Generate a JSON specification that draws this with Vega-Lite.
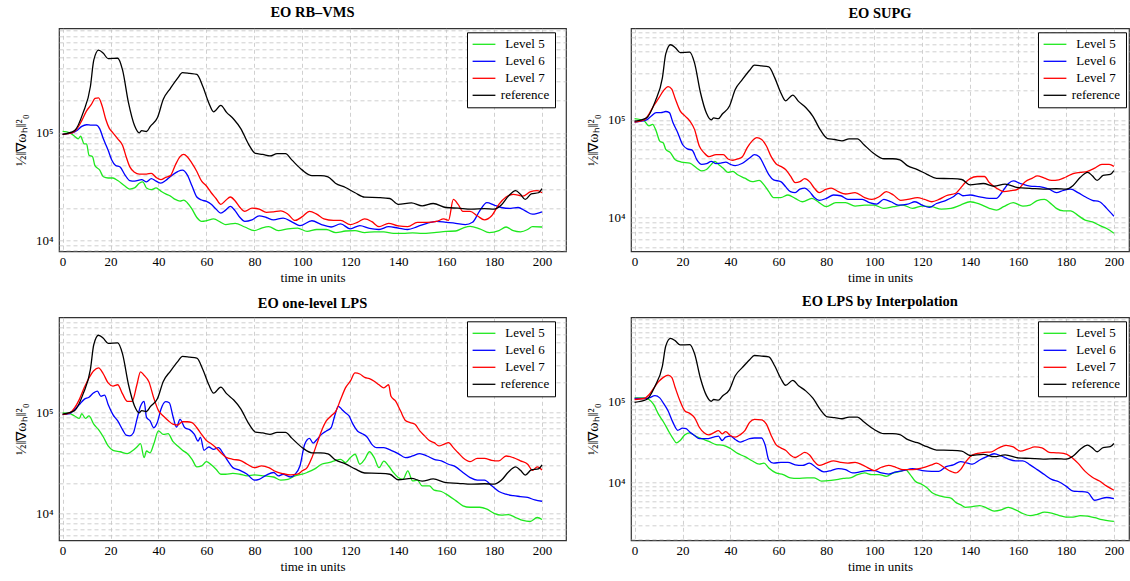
{
 "$schema": "https://vega.github.io/schema/vega-lite/v6.json",
 "padding": {"left": 13, "top": 3.3, "right": 0, "bottom": 0},
 "config": {
  "view": {"stroke": "#333", "strokeWidth": 1.2},
  "font": "Liberation Serif",
  "style": {"guide-label": {"font": "Liberation Serif", "fontSize": 13, "fill": "#000"}, "guide-title": {"font": "Liberation Serif", "fill": "#000"}},
  "axis": {"domain": false, "ticks": false, "grid": true, "gridDash": [4, 3], "gridColor": "#c4c4c4", "gridWidth": 0.8,
   "labelFont": "Liberation Serif", "labelFontSize": 13, "labelColor": "#000", "titleFont": "Liberation Serif", "titleFontSize": 13, "titleFontWeight": "normal", "titleColor": "#000"},
  "title": {"font": "Liberation Serif", "fontSize": 14.5, "fontWeight": "bold", "color": "#000", "offset": 4},
  "legend": {"orient": "none", "labelFont": "Liberation Serif", "labelFontSize": 13, "labelColor": "#000", "symbolType": "M-1.9,0H1.9", "symbolSize": 144, "symbolStrokeWidth": 1.3, "symbolOffset": 5, "strokeColor": "#000", "fillColor": "#fff", "padding": 5, "rowPadding": 3, "labelOffset": 34, "labelAlign": "center", "cornerRadius": 0}
 },
 "datasets": {"d": [
{"p":"rb","s":"Level 5","t":0,"v":103000},{"p":"rb","s":"Level 5","t":3,"v":100000},{"p":"rb","s":"Level 5","t":5,"v":93000},{"p":"rb","s":"Level 5","t":6.5,"v":88000},{"p":"rb","s":"Level 5","t":7.5,"v":93000},{"p":"rb","s":"Level 5","t":9,"v":79000},{"p":"rb","s":"Level 5","t":10,"v":79000},{"p":"rb","s":"Level 5","t":11,"v":62000},{"p":"rb","s":"Level 5","t":12.5,"v":60000},{"p":"rb","s":"Level 5","t":13.5,"v":49500},{"p":"rb","s":"Level 5","t":15.5,"v":45000},{"p":"rb","s":"Level 5","t":17,"v":39000},{"p":"rb","s":"Level 5","t":19,"v":38000},{"p":"rb","s":"Level 5","t":21,"v":38000},{"p":"rb","s":"Level 5","t":23,"v":36000},{"p":"rb","s":"Level 5","t":26,"v":32000},{"p":"rb","s":"Level 5","t":28,"v":30000},{"p":"rb","s":"Level 5","t":30,"v":30700},{"p":"rb","s":"Level 5","t":32,"v":34000},{"p":"rb","s":"Level 5","t":33.5,"v":35000},{"p":"rb","s":"Level 5","t":35,"v":30700},{"p":"rb","s":"Level 5","t":37,"v":29600},{"p":"rb","s":"Level 5","t":39,"v":30700},{"p":"rb","s":"Level 5","t":41,"v":28700},{"p":"rb","s":"Level 5","t":43,"v":27000},{"p":"rb","s":"Level 5","t":45,"v":25800},{"p":"rb","s":"Level 5","t":47,"v":24000},{"p":"rb","s":"Level 5","t":49,"v":23200},{"p":"rb","s":"Level 5","t":50.5,"v":23700},{"p":"rb","s":"Level 5","t":52,"v":22400},{"p":"rb","s":"Level 5","t":54,"v":19500},{"p":"rb","s":"Level 5","t":56,"v":16300},{"p":"rb","s":"Level 5","t":58,"v":15000},{"p":"rb","s":"Level 5","t":60,"v":15200},{"p":"rb","s":"Level 5","t":63,"v":15800},{"p":"rb","s":"Level 5","t":66,"v":14700},{"p":"rb","s":"Level 5","t":68,"v":14000},{"p":"rb","s":"Level 5","t":72,"v":14400},{"p":"rb","s":"Level 5","t":76,"v":13300},{"p":"rb","s":"Level 5","t":80,"v":12300},{"p":"rb","s":"Level 5","t":83,"v":13000},{"p":"rb","s":"Level 5","t":86,"v":13400},{"p":"rb","s":"Level 5","t":90,"v":12300},{"p":"rb","s":"Level 5","t":94,"v":12800},{"p":"rb","s":"Level 5","t":98,"v":13000},{"p":"rb","s":"Level 5","t":102,"v":12100},{"p":"rb","s":"Level 5","t":106,"v":12600},{"p":"rb","s":"Level 5","t":110,"v":12600},{"p":"rb","s":"Level 5","t":114,"v":11800},{"p":"rb","s":"Level 5","t":118,"v":12200},{"p":"rb","s":"Level 5","t":122,"v":12300},{"p":"rb","s":"Level 5","t":126,"v":11800},{"p":"rb","s":"Level 5","t":130,"v":12000},{"p":"rb","s":"Level 5","t":134,"v":12000},{"p":"rb","s":"Level 5","t":138,"v":11600},{"p":"rb","s":"Level 5","t":142,"v":11600},{"p":"rb","s":"Level 5","t":146,"v":11700},{"p":"rb","s":"Level 5","t":150,"v":11600},{"p":"rb","s":"Level 5","t":155,"v":11800},{"p":"rb","s":"Level 5","t":160,"v":12100},{"p":"rb","s":"Level 5","t":164,"v":12200},{"p":"rb","s":"Level 5","t":167,"v":13000},{"p":"rb","s":"Level 5","t":170,"v":13500},{"p":"rb","s":"Level 5","t":174,"v":12800},{"p":"rb","s":"Level 5","t":178,"v":11800},{"p":"rb","s":"Level 5","t":182,"v":12300},{"p":"rb","s":"Level 5","t":185,"v":13300},{"p":"rb","s":"Level 5","t":188,"v":12300},{"p":"rb","s":"Level 5","t":191,"v":12000},{"p":"rb","s":"Level 5","t":194,"v":12600},{"p":"rb","s":"Level 5","t":196,"v":13400},{"p":"rb","s":"Level 5","t":200,"v":13300},
{"p":"rb","s":"Level 6","t":0,"v":97000},{"p":"rb","s":"Level 6","t":4,"v":100000},{"p":"rb","s":"Level 6","t":6,"v":105000},{"p":"rb","s":"Level 6","t":8,"v":115000},{"p":"rb","s":"Level 6","t":10,"v":119000},{"p":"rb","s":"Level 6","t":12,"v":118000},{"p":"rb","s":"Level 6","t":14,"v":118000},{"p":"rb","s":"Level 6","t":15.5,"v":109000},{"p":"rb","s":"Level 6","t":17,"v":88000},{"p":"rb","s":"Level 6","t":19,"v":69000},{"p":"rb","s":"Level 6","t":20.5,"v":56000},{"p":"rb","s":"Level 6","t":22,"v":50000},{"p":"rb","s":"Level 6","t":24,"v":48000},{"p":"rb","s":"Level 6","t":26,"v":40700},{"p":"rb","s":"Level 6","t":28,"v":36000},{"p":"rb","s":"Level 6","t":30,"v":35500},{"p":"rb","s":"Level 6","t":33,"v":36700},{"p":"rb","s":"Level 6","t":35,"v":35000},{"p":"rb","s":"Level 6","t":37,"v":37500},{"p":"rb","s":"Level 6","t":39,"v":35500},{"p":"rb","s":"Level 6","t":41,"v":34000},{"p":"rb","s":"Level 6","t":43,"v":36000},{"p":"rb","s":"Level 6","t":45,"v":39300},{"p":"rb","s":"Level 6","t":48,"v":43600},{"p":"rb","s":"Level 6","t":50,"v":45000},{"p":"rb","s":"Level 6","t":52,"v":40700},{"p":"rb","s":"Level 6","t":54,"v":32000},{"p":"rb","s":"Level 6","t":56,"v":25300},{"p":"rb","s":"Level 6","t":58,"v":23700},{"p":"rb","s":"Level 6","t":60,"v":23000},{"p":"rb","s":"Level 6","t":62,"v":21600},{"p":"rb","s":"Level 6","t":64,"v":19500},{"p":"rb","s":"Level 6","t":66,"v":17900},{"p":"rb","s":"Level 6","t":68,"v":19100},{"p":"rb","s":"Level 6","t":70,"v":20700},{"p":"rb","s":"Level 6","t":72,"v":18800},{"p":"rb","s":"Level 6","t":74,"v":16300},{"p":"rb","s":"Level 6","t":76,"v":15000},{"p":"rb","s":"Level 6","t":79,"v":15500},{"p":"rb","s":"Level 6","t":82,"v":16900},{"p":"rb","s":"Level 6","t":85,"v":16300},{"p":"rb","s":"Level 6","t":88,"v":15500},{"p":"rb","s":"Level 6","t":92,"v":16100},{"p":"rb","s":"Level 6","t":96,"v":14700},{"p":"rb","s":"Level 6","t":99,"v":13700},{"p":"rb","s":"Level 6","t":104,"v":15200},{"p":"rb","s":"Level 6","t":108,"v":14000},{"p":"rb","s":"Level 6","t":112,"v":13300},{"p":"rb","s":"Level 6","t":116,"v":14200},{"p":"rb","s":"Level 6","t":120,"v":12800},{"p":"rb","s":"Level 6","t":124,"v":13700},{"p":"rb","s":"Level 6","t":128,"v":12900},{"p":"rb","s":"Level 6","t":132,"v":12600},{"p":"rb","s":"Level 6","t":136,"v":13400},{"p":"rb","s":"Level 6","t":140,"v":13000},{"p":"rb","s":"Level 6","t":144,"v":12600},{"p":"rb","s":"Level 6","t":148,"v":13400},{"p":"rb","s":"Level 6","t":152,"v":14400},{"p":"rb","s":"Level 6","t":156,"v":15000},{"p":"rb","s":"Level 6","t":160,"v":14700},{"p":"rb","s":"Level 6","t":164,"v":14400},{"p":"rb","s":"Level 6","t":168,"v":14000},{"p":"rb","s":"Level 6","t":171,"v":14700},{"p":"rb","s":"Level 6","t":174,"v":18800},{"p":"rb","s":"Level 6","t":177,"v":22400},{"p":"rb","s":"Level 6","t":180,"v":21300},{"p":"rb","s":"Level 6","t":183,"v":20200},{"p":"rb","s":"Level 6","t":187,"v":19800},{"p":"rb","s":"Level 6","t":190,"v":20200},{"p":"rb","s":"Level 6","t":193,"v":18800},{"p":"rb","s":"Level 6","t":196,"v":17500},{"p":"rb","s":"Level 6","t":200,"v":18400},
{"p":"rb","s":"Level 7","t":0,"v":97000},{"p":"rb","s":"Level 7","t":4,"v":100000},{"p":"rb","s":"Level 7","t":6,"v":109000},{"p":"rb","s":"Level 7","t":8,"v":130000},{"p":"rb","s":"Level 7","t":10,"v":160000},{"p":"rb","s":"Level 7","t":12,"v":184000},{"p":"rb","s":"Level 7","t":13.5,"v":209000},{"p":"rb","s":"Level 7","t":15,"v":212000},{"p":"rb","s":"Level 7","t":16.5,"v":178000},{"p":"rb","s":"Level 7","t":18,"v":134000},{"p":"rb","s":"Level 7","t":19.5,"v":110000},{"p":"rb","s":"Level 7","t":21,"v":100000},{"p":"rb","s":"Level 7","t":23,"v":88000},{"p":"rb","s":"Level 7","t":25,"v":76600},{"p":"rb","s":"Level 7","t":26.5,"v":60000},{"p":"rb","s":"Level 7","t":28,"v":48500},{"p":"rb","s":"Level 7","t":30,"v":43000},{"p":"rb","s":"Level 7","t":32,"v":41300},{"p":"rb","s":"Level 7","t":35,"v":41300},{"p":"rb","s":"Level 7","t":37,"v":42000},{"p":"rb","s":"Level 7","t":39,"v":38500},{"p":"rb","s":"Level 7","t":41,"v":36700},{"p":"rb","s":"Level 7","t":43,"v":38500},{"p":"rb","s":"Level 7","t":45,"v":40000},{"p":"rb","s":"Level 7","t":47,"v":50000},{"p":"rb","s":"Level 7","t":49,"v":60000},{"p":"rb","s":"Level 7","t":50.5,"v":63000},{"p":"rb","s":"Level 7","t":52,"v":60000},{"p":"rb","s":"Level 7","t":54,"v":52000},{"p":"rb","s":"Level 7","t":56,"v":43700},{"p":"rb","s":"Level 7","t":58,"v":35500},{"p":"rb","s":"Level 7","t":60,"v":32000},{"p":"rb","s":"Level 7","t":62,"v":27700},{"p":"rb","s":"Level 7","t":64,"v":24500},{"p":"rb","s":"Level 7","t":66,"v":21600},{"p":"rb","s":"Level 7","t":68,"v":23500},{"p":"rb","s":"Level 7","t":70,"v":25300},{"p":"rb","s":"Level 7","t":72,"v":23200},{"p":"rb","s":"Level 7","t":74,"v":20200},{"p":"rb","s":"Level 7","t":76,"v":18600},{"p":"rb","s":"Level 7","t":79,"v":19900},{"p":"rb","s":"Level 7","t":82,"v":19500},{"p":"rb","s":"Level 7","t":85,"v":18200},{"p":"rb","s":"Level 7","t":88,"v":18400},{"p":"rb","s":"Level 7","t":91,"v":18800},{"p":"rb","s":"Level 7","t":94,"v":17500},{"p":"rb","s":"Level 7","t":97,"v":15300},{"p":"rb","s":"Level 7","t":100,"v":16600},{"p":"rb","s":"Level 7","t":103,"v":18600},{"p":"rb","s":"Level 7","t":106,"v":17500},{"p":"rb","s":"Level 7","t":109,"v":15800},{"p":"rb","s":"Level 7","t":113,"v":15300},{"p":"rb","s":"Level 7","t":116,"v":15300},{"p":"rb","s":"Level 7","t":120,"v":14000},{"p":"rb","s":"Level 7","t":123,"v":14700},{"p":"rb","s":"Level 7","t":126,"v":15800},{"p":"rb","s":"Level 7","t":129,"v":14900},{"p":"rb","s":"Level 7","t":132,"v":13400},{"p":"rb","s":"Level 7","t":136,"v":14400},{"p":"rb","s":"Level 7","t":140,"v":13600},{"p":"rb","s":"Level 7","t":144,"v":13400},{"p":"rb","s":"Level 7","t":148,"v":14700},{"p":"rb","s":"Level 7","t":152,"v":14700},{"p":"rb","s":"Level 7","t":156,"v":15000},{"p":"rb","s":"Level 7","t":159,"v":15800},{"p":"rb","s":"Level 7","t":161,"v":15300},{"p":"rb","s":"Level 7","t":163,"v":24000},{"p":"rb","s":"Level 7","t":165,"v":21600},{"p":"rb","s":"Level 7","t":167,"v":18600},{"p":"rb","s":"Level 7","t":170,"v":18600},{"p":"rb","s":"Level 7","t":173,"v":16900},{"p":"rb","s":"Level 7","t":176,"v":15500},{"p":"rb","s":"Level 7","t":179,"v":16900},{"p":"rb","s":"Level 7","t":182,"v":21600},{"p":"rb","s":"Level 7","t":185,"v":25300},{"p":"rb","s":"Level 7","t":188,"v":26800},{"p":"rb","s":"Level 7","t":192,"v":25800},{"p":"rb","s":"Level 7","t":195,"v":28200},{"p":"rb","s":"Level 7","t":198,"v":29000},{"p":"rb","s":"Level 7","t":200,"v":27700},
{"p":"supg","s":"Level 5","t":0,"v":103000},{"p":"supg","s":"Level 5","t":4,"v":98000},{"p":"supg","s":"Level 5","t":6,"v":87000},{"p":"supg","s":"Level 5","t":7.5,"v":90000},{"p":"supg","s":"Level 5","t":9,"v":77000},{"p":"supg","s":"Level 5","t":10.5,"v":60700},{"p":"supg","s":"Level 5","t":12,"v":58000},{"p":"supg","s":"Level 5","t":13,"v":50000},{"p":"supg","s":"Level 5","t":15,"v":46000},{"p":"supg","s":"Level 5","t":17,"v":39000},{"p":"supg","s":"Level 5","t":19.5,"v":37000},{"p":"supg","s":"Level 5","t":23,"v":36000},{"p":"supg","s":"Level 5","t":26,"v":32000},{"p":"supg","s":"Level 5","t":28,"v":30000},{"p":"supg","s":"Level 5","t":30,"v":31000},{"p":"supg","s":"Level 5","t":32,"v":35000},{"p":"supg","s":"Level 5","t":33.5,"v":37600},{"p":"supg","s":"Level 5","t":35,"v":35000},{"p":"supg","s":"Level 5","t":37,"v":32000},{"p":"supg","s":"Level 5","t":39,"v":29000},{"p":"supg","s":"Level 5","t":41,"v":29700},{"p":"supg","s":"Level 5","t":43,"v":27400},{"p":"supg","s":"Level 5","t":46,"v":25300},{"p":"supg","s":"Level 5","t":49,"v":23300},{"p":"supg","s":"Level 5","t":52,"v":24000},{"p":"supg","s":"Level 5","t":54,"v":21600},{"p":"supg","s":"Level 5","t":56,"v":18400},{"p":"supg","s":"Level 5","t":58,"v":16000},{"p":"supg","s":"Level 5","t":61,"v":16000},{"p":"supg","s":"Level 5","t":64,"v":17000},{"p":"supg","s":"Level 5","t":67,"v":15700},{"p":"supg","s":"Level 5","t":70,"v":14500},{"p":"supg","s":"Level 5","t":74,"v":15700},{"p":"supg","s":"Level 5","t":77,"v":14200},{"p":"supg","s":"Level 5","t":80,"v":12900},{"p":"supg","s":"Level 5","t":84,"v":14200},{"p":"supg","s":"Level 5","t":88,"v":14200},{"p":"supg","s":"Level 5","t":92,"v":13100},{"p":"supg","s":"Level 5","t":96,"v":13400},{"p":"supg","s":"Level 5","t":100,"v":13400},{"p":"supg","s":"Level 5","t":104,"v":12400},{"p":"supg","s":"Level 5","t":108,"v":12900},{"p":"supg","s":"Level 5","t":112,"v":13400},{"p":"supg","s":"Level 5","t":116,"v":12400},{"p":"supg","s":"Level 5","t":120,"v":13100},{"p":"supg","s":"Level 5","t":124,"v":12900},{"p":"supg","s":"Level 5","t":128,"v":12200},{"p":"supg","s":"Level 5","t":132,"v":12400},{"p":"supg","s":"Level 5","t":136,"v":13400},{"p":"supg","s":"Level 5","t":140,"v":14500},{"p":"supg","s":"Level 5","t":144,"v":13700},{"p":"supg","s":"Level 5","t":148,"v":12400},{"p":"supg","s":"Level 5","t":151,"v":11900},{"p":"supg","s":"Level 5","t":154,"v":12900},{"p":"supg","s":"Level 5","t":158,"v":14200},{"p":"supg","s":"Level 5","t":162,"v":13100},{"p":"supg","s":"Level 5","t":165,"v":13400},{"p":"supg","s":"Level 5","t":168,"v":14900},{"p":"supg","s":"Level 5","t":171,"v":15300},{"p":"supg","s":"Level 5","t":174,"v":13700},{"p":"supg","s":"Level 5","t":176,"v":12400},{"p":"supg","s":"Level 5","t":179,"v":11700},{"p":"supg","s":"Level 5","t":182,"v":11700},{"p":"supg","s":"Level 5","t":185,"v":10500},{"p":"supg","s":"Level 5","t":188,"v":9400},{"p":"supg","s":"Level 5","t":191,"v":9000},{"p":"supg","s":"Level 5","t":194,"v":8300},{"p":"supg","s":"Level 5","t":197,"v":7700},{"p":"supg","s":"Level 5","t":200,"v":6900},
{"p":"supg","s":"Level 6","t":0,"v":95000},{"p":"supg","s":"Level 6","t":5,"v":100000},{"p":"supg","s":"Level 6","t":7,"v":110000},{"p":"supg","s":"Level 6","t":9,"v":119000},{"p":"supg","s":"Level 6","t":11,"v":119000},{"p":"supg","s":"Level 6","t":13,"v":122000},{"p":"supg","s":"Level 6","t":14.5,"v":119000},{"p":"supg","s":"Level 6","t":16,"v":94000},{"p":"supg","s":"Level 6","t":18,"v":74000},{"p":"supg","s":"Level 6","t":20,"v":56000},{"p":"supg","s":"Level 6","t":22,"v":50500},{"p":"supg","s":"Level 6","t":24,"v":49000},{"p":"supg","s":"Level 6","t":26,"v":39000},{"p":"supg","s":"Level 6","t":28,"v":35000},{"p":"supg","s":"Level 6","t":30,"v":35600},{"p":"supg","s":"Level 6","t":32,"v":37600},{"p":"supg","s":"Level 6","t":34,"v":35600},{"p":"supg","s":"Level 6","t":36,"v":36000},{"p":"supg","s":"Level 6","t":38,"v":37000},{"p":"supg","s":"Level 6","t":40,"v":35000},{"p":"supg","s":"Level 6","t":42,"v":34000},{"p":"supg","s":"Level 6","t":45,"v":36000},{"p":"supg","s":"Level 6","t":48,"v":40700},{"p":"supg","s":"Level 6","t":50,"v":44000},{"p":"supg","s":"Level 6","t":52,"v":42000},{"p":"supg","s":"Level 6","t":54,"v":34300},{"p":"supg","s":"Level 6","t":56,"v":27500},{"p":"supg","s":"Level 6","t":58,"v":24300},{"p":"supg","s":"Level 6","t":61,"v":23300},{"p":"supg","s":"Level 6","t":63,"v":20700},{"p":"supg","s":"Level 6","t":65,"v":18400},{"p":"supg","s":"Level 6","t":67,"v":18000},{"p":"supg","s":"Level 6","t":69,"v":19500},{"p":"supg","s":"Level 6","t":71,"v":20000},{"p":"supg","s":"Level 6","t":73,"v":18400},{"p":"supg","s":"Level 6","t":75,"v":16000},{"p":"supg","s":"Level 6","t":77,"v":15000},{"p":"supg","s":"Level 6","t":80,"v":15700},{"p":"supg","s":"Level 6","t":83,"v":17000},{"p":"supg","s":"Level 6","t":86,"v":16700},{"p":"supg","s":"Level 6","t":89,"v":15300},{"p":"supg","s":"Level 6","t":92,"v":15300},{"p":"supg","s":"Level 6","t":95,"v":15300},{"p":"supg","s":"Level 6","t":98,"v":14200},{"p":"supg","s":"Level 6","t":101,"v":13700},{"p":"supg","s":"Level 6","t":104,"v":15300},{"p":"supg","s":"Level 6","t":107,"v":14500},{"p":"supg","s":"Level 6","t":110,"v":13400},{"p":"supg","s":"Level 6","t":114,"v":13700},{"p":"supg","s":"Level 6","t":117,"v":14500},{"p":"supg","s":"Level 6","t":120,"v":13400},{"p":"supg","s":"Level 6","t":123,"v":12700},{"p":"supg","s":"Level 6","t":126,"v":13900},{"p":"supg","s":"Level 6","t":130,"v":15000},{"p":"supg","s":"Level 6","t":133,"v":16300},{"p":"supg","s":"Level 6","t":135,"v":17700},{"p":"supg","s":"Level 6","t":137,"v":16700},{"p":"supg","s":"Level 6","t":140,"v":17000},{"p":"supg","s":"Level 6","t":144,"v":16300},{"p":"supg","s":"Level 6","t":148,"v":15700},{"p":"supg","s":"Level 6","t":151,"v":15700},{"p":"supg","s":"Level 6","t":153,"v":17700},{"p":"supg","s":"Level 6","t":156,"v":22300},{"p":"supg","s":"Level 6","t":158,"v":23700},{"p":"supg","s":"Level 6","t":161,"v":22300},{"p":"supg","s":"Level 6","t":165,"v":21000},{"p":"supg","s":"Level 6","t":169,"v":20700},{"p":"supg","s":"Level 6","t":173,"v":19500},{"p":"supg","s":"Level 6","t":176,"v":18000},{"p":"supg","s":"Level 6","t":179,"v":19000},{"p":"supg","s":"Level 6","t":182,"v":19500},{"p":"supg","s":"Level 6","t":185,"v":18000},{"p":"supg","s":"Level 6","t":188,"v":16300},{"p":"supg","s":"Level 6","t":191,"v":15000},{"p":"supg","s":"Level 6","t":194,"v":14500},{"p":"supg","s":"Level 6","t":197,"v":12400},{"p":"supg","s":"Level 6","t":200,"v":10300},
{"p":"supg","s":"Level 7","t":0,"v":95000},{"p":"supg","s":"Level 7","t":4,"v":100000},{"p":"supg","s":"Level 7","t":6,"v":115000},{"p":"supg","s":"Level 7","t":8,"v":140000},{"p":"supg","s":"Level 7","t":10,"v":166000},{"p":"supg","s":"Level 7","t":12,"v":199000},{"p":"supg","s":"Level 7","t":14,"v":220000},{"p":"supg","s":"Level 7","t":15.5,"v":207000},{"p":"supg","s":"Level 7","t":17,"v":164000},{"p":"supg","s":"Level 7","t":19,"v":124000},{"p":"supg","s":"Level 7","t":21,"v":110000},{"p":"supg","s":"Level 7","t":23,"v":98000},{"p":"supg","s":"Level 7","t":25,"v":80000},{"p":"supg","s":"Level 7","t":27,"v":54000},{"p":"supg","s":"Level 7","t":29,"v":46000},{"p":"supg","s":"Level 7","t":31,"v":42000},{"p":"supg","s":"Level 7","t":34,"v":44000},{"p":"supg","s":"Level 7","t":37,"v":44000},{"p":"supg","s":"Level 7","t":39,"v":39800},{"p":"supg","s":"Level 7","t":41,"v":38600},{"p":"supg","s":"Level 7","t":43,"v":39800},{"p":"supg","s":"Level 7","t":45,"v":42000},{"p":"supg","s":"Level 7","t":47,"v":52000},{"p":"supg","s":"Level 7","t":49,"v":60700},{"p":"supg","s":"Level 7","t":51,"v":66000},{"p":"supg","s":"Level 7","t":53,"v":63000},{"p":"supg","s":"Level 7","t":55,"v":54000},{"p":"supg","s":"Level 7","t":57,"v":42000},{"p":"supg","s":"Level 7","t":59,"v":35600},{"p":"supg","s":"Level 7","t":61,"v":33400},{"p":"supg","s":"Level 7","t":63,"v":31000},{"p":"supg","s":"Level 7","t":65,"v":26700},{"p":"supg","s":"Level 7","t":67,"v":22800},{"p":"supg","s":"Level 7","t":69,"v":23300},{"p":"supg","s":"Level 7","t":71,"v":25000},{"p":"supg","s":"Level 7","t":73,"v":23300},{"p":"supg","s":"Level 7","t":75,"v":20000},{"p":"supg","s":"Level 7","t":77,"v":18000},{"p":"supg","s":"Level 7","t":80,"v":19500},{"p":"supg","s":"Level 7","t":82,"v":20000},{"p":"supg","s":"Level 7","t":85,"v":18400},{"p":"supg","s":"Level 7","t":88,"v":17400},{"p":"supg","s":"Level 7","t":92,"v":18000},{"p":"supg","s":"Level 7","t":96,"v":16000},{"p":"supg","s":"Level 7","t":99,"v":15300},{"p":"supg","s":"Level 7","t":102,"v":16300},{"p":"supg","s":"Level 7","t":105,"v":18400},{"p":"supg","s":"Level 7","t":108,"v":17000},{"p":"supg","s":"Level 7","t":111,"v":15000},{"p":"supg","s":"Level 7","t":114,"v":15300},{"p":"supg","s":"Level 7","t":118,"v":16000},{"p":"supg","s":"Level 7","t":121,"v":15300},{"p":"supg","s":"Level 7","t":124,"v":14500},{"p":"supg","s":"Level 7","t":127,"v":15300},{"p":"supg","s":"Level 7","t":130,"v":16700},{"p":"supg","s":"Level 7","t":134,"v":17700},{"p":"supg","s":"Level 7","t":136,"v":20000},{"p":"supg","s":"Level 7","t":138,"v":22800},{"p":"supg","s":"Level 7","t":140,"v":25000},{"p":"supg","s":"Level 7","t":143,"v":26300},{"p":"supg","s":"Level 7","t":146,"v":26300},{"p":"supg","s":"Level 7","t":148,"v":22800},{"p":"supg","s":"Level 7","t":151,"v":20000},{"p":"supg","s":"Level 7","t":154,"v":18400},{"p":"supg","s":"Level 7","t":157,"v":18800},{"p":"supg","s":"Level 7","t":160,"v":19500},{"p":"supg","s":"Level 7","t":163,"v":23300},{"p":"supg","s":"Level 7","t":166,"v":25300},{"p":"supg","s":"Level 7","t":168,"v":26700},{"p":"supg","s":"Level 7","t":171,"v":25300},{"p":"supg","s":"Level 7","t":174,"v":24000},{"p":"supg","s":"Level 7","t":177,"v":24300},{"p":"supg","s":"Level 7","t":180,"v":26000},{"p":"supg","s":"Level 7","t":183,"v":28200},{"p":"supg","s":"Level 7","t":186,"v":29000},{"p":"supg","s":"Level 7","t":189,"v":29700},{"p":"supg","s":"Level 7","t":192,"v":32000},{"p":"supg","s":"Level 7","t":195,"v":35000},{"p":"supg","s":"Level 7","t":198,"v":35000},{"p":"supg","s":"Level 7","t":200,"v":33400},
{"p":"lps","s":"Level 5","t":0,"v":100000},{"p":"lps","s":"Level 5","t":3,"v":98000},{"p":"lps","s":"Level 5","t":5,"v":93000},{"p":"lps","s":"Level 5","t":7,"v":88000},{"p":"lps","s":"Level 5","t":8,"v":98000},{"p":"lps","s":"Level 5","t":9.5,"v":88000},{"p":"lps","s":"Level 5","t":11,"v":93000},{"p":"lps","s":"Level 5","t":13,"v":77000},{"p":"lps","s":"Level 5","t":15,"v":68000},{"p":"lps","s":"Level 5","t":17,"v":57400},{"p":"lps","s":"Level 5","t":19,"v":46800},{"p":"lps","s":"Level 5","t":21,"v":42400},{"p":"lps","s":"Level 5","t":24,"v":41000},{"p":"lps","s":"Level 5","t":27,"v":39300},{"p":"lps","s":"Level 5","t":29,"v":41700},{"p":"lps","s":"Level 5","t":31,"v":45700},{"p":"lps","s":"Level 5","t":32.5,"v":49300},{"p":"lps","s":"Level 5","t":34,"v":35800},{"p":"lps","s":"Level 5","t":35,"v":41700},{"p":"lps","s":"Level 5","t":36.5,"v":40000},{"p":"lps","s":"Level 5","t":38,"v":48600},{"p":"lps","s":"Level 5","t":40,"v":66000},{"p":"lps","s":"Level 5","t":42,"v":61000},{"p":"lps","s":"Level 5","t":44,"v":62000},{"p":"lps","s":"Level 5","t":46,"v":52000},{"p":"lps","s":"Level 5","t":48,"v":46800},{"p":"lps","s":"Level 5","t":50,"v":42400},{"p":"lps","s":"Level 5","t":52,"v":39300},{"p":"lps","s":"Level 5","t":54,"v":34500},{"p":"lps","s":"Level 5","t":56,"v":29000},{"p":"lps","s":"Level 5","t":58,"v":29600},{"p":"lps","s":"Level 5","t":60,"v":32700},{"p":"lps","s":"Level 5","t":62,"v":30400},{"p":"lps","s":"Level 5","t":64,"v":27500},{"p":"lps","s":"Level 5","t":66,"v":24500},{"p":"lps","s":"Level 5","t":68,"v":24500},{"p":"lps","s":"Level 5","t":71,"v":25000},{"p":"lps","s":"Level 5","t":74,"v":24500},{"p":"lps","s":"Level 5","t":77,"v":23600},{"p":"lps","s":"Level 5","t":80,"v":24100},{"p":"lps","s":"Level 5","t":84,"v":23600},{"p":"lps","s":"Level 5","t":88,"v":23000},{"p":"lps","s":"Level 5","t":91,"v":21400},{"p":"lps","s":"Level 5","t":94,"v":21800},{"p":"lps","s":"Level 5","t":97,"v":23600},{"p":"lps","s":"Level 5","t":100,"v":24500},{"p":"lps","s":"Level 5","t":102,"v":25500},{"p":"lps","s":"Level 5","t":105,"v":27500},{"p":"lps","s":"Level 5","t":108,"v":30800},{"p":"lps","s":"Level 5","t":111,"v":32000},{"p":"lps","s":"Level 5","t":113,"v":33000},{"p":"lps","s":"Level 5","t":116,"v":34500},{"p":"lps","s":"Level 5","t":118,"v":32000},{"p":"lps","s":"Level 5","t":120,"v":35800},{"p":"lps","s":"Level 5","t":122,"v":38700},{"p":"lps","s":"Level 5","t":124,"v":30800},{"p":"lps","s":"Level 5","t":126,"v":34500},{"p":"lps","s":"Level 5","t":128,"v":41000},{"p":"lps","s":"Level 5","t":130,"v":35800},{"p":"lps","s":"Level 5","t":132,"v":28500},{"p":"lps","s":"Level 5","t":134,"v":33000},{"p":"lps","s":"Level 5","t":136,"v":29600},{"p":"lps","s":"Level 5","t":138,"v":25500},{"p":"lps","s":"Level 5","t":140,"v":22700},{"p":"lps","s":"Level 5","t":142,"v":21800},{"p":"lps","s":"Level 5","t":144,"v":26500},{"p":"lps","s":"Level 5","t":146,"v":21000},{"p":"lps","s":"Level 5","t":148,"v":21400},{"p":"lps","s":"Level 5","t":150,"v":18800},{"p":"lps","s":"Level 5","t":153,"v":18800},{"p":"lps","s":"Level 5","t":155,"v":17000},{"p":"lps","s":"Level 5","t":158,"v":16500},{"p":"lps","s":"Level 5","t":161,"v":15000},{"p":"lps","s":"Level 5","t":164,"v":13400},{"p":"lps","s":"Level 5","t":167,"v":11900},{"p":"lps","s":"Level 5","t":170,"v":11500},{"p":"lps","s":"Level 5","t":174,"v":11500},{"p":"lps","s":"Level 5","t":177,"v":11000},{"p":"lps","s":"Level 5","t":180,"v":10000},{"p":"lps","s":"Level 5","t":183,"v":9600},{"p":"lps","s":"Level 5","t":186,"v":9700},{"p":"lps","s":"Level 5","t":189,"v":9100},{"p":"lps","s":"Level 5","t":192,"v":8500},{"p":"lps","s":"Level 5","t":195,"v":8300},{"p":"lps","s":"Level 5","t":198,"v":9100},{"p":"lps","s":"Level 5","t":200,"v":8700},
{"p":"lps","s":"Level 6","t":0,"v":96000},{"p":"lps","s":"Level 6","t":3,"v":98000},{"p":"lps","s":"Level 6","t":5,"v":108000},{"p":"lps","s":"Level 6","t":7,"v":121000},{"p":"lps","s":"Level 6","t":9,"v":136000},{"p":"lps","s":"Level 6","t":11,"v":143000},{"p":"lps","s":"Level 6","t":13,"v":158000},{"p":"lps","s":"Level 6","t":14.5,"v":164000},{"p":"lps","s":"Level 6","t":16,"v":146000},{"p":"lps","s":"Level 6","t":17.5,"v":150000},{"p":"lps","s":"Level 6","t":19,"v":121000},{"p":"lps","s":"Level 6","t":21,"v":96000},{"p":"lps","s":"Level 6","t":23,"v":83000},{"p":"lps","s":"Level 6","t":25,"v":68000},{"p":"lps","s":"Level 6","t":26.5,"v":60000},{"p":"lps","s":"Level 6","t":28,"v":59000},{"p":"lps","s":"Level 6","t":29.5,"v":63000},{"p":"lps","s":"Level 6","t":31,"v":86000},{"p":"lps","s":"Level 6","t":32.5,"v":116000},{"p":"lps","s":"Level 6","t":34,"v":130000},{"p":"lps","s":"Level 6","t":35,"v":90000},{"p":"lps","s":"Level 6","t":36.5,"v":83000},{"p":"lps","s":"Level 6","t":38,"v":71000},{"p":"lps","s":"Level 6","t":39.5,"v":80000},{"p":"lps","s":"Level 6","t":41,"v":108000},{"p":"lps","s":"Level 6","t":43,"v":129000},{"p":"lps","s":"Level 6","t":44.5,"v":126000},{"p":"lps","s":"Level 6","t":46,"v":93000},{"p":"lps","s":"Level 6","t":47.5,"v":72000},{"p":"lps","s":"Level 6","t":49,"v":86000},{"p":"lps","s":"Level 6","t":51,"v":71000},{"p":"lps","s":"Level 6","t":53,"v":68000},{"p":"lps","s":"Level 6","t":55,"v":61000},{"p":"lps","s":"Level 6","t":56.5,"v":52400},{"p":"lps","s":"Level 6","t":57.5,"v":57000},{"p":"lps","s":"Level 6","t":59,"v":42400},{"p":"lps","s":"Level 6","t":61,"v":45700},{"p":"lps","s":"Level 6","t":63,"v":43300},{"p":"lps","s":"Level 6","t":65,"v":45000},{"p":"lps","s":"Level 6","t":67,"v":39300},{"p":"lps","s":"Level 6","t":69,"v":33000},{"p":"lps","s":"Level 6","t":71,"v":28500},{"p":"lps","s":"Level 6","t":74,"v":26800},{"p":"lps","s":"Level 6","t":77,"v":24500},{"p":"lps","s":"Level 6","t":80,"v":21400},{"p":"lps","s":"Level 6","t":82,"v":21800},{"p":"lps","s":"Level 6","t":85,"v":24000},{"p":"lps","s":"Level 6","t":88,"v":25500},{"p":"lps","s":"Level 6","t":90,"v":23600},{"p":"lps","s":"Level 6","t":92,"v":24500},{"p":"lps","s":"Level 6","t":95,"v":23000},{"p":"lps","s":"Level 6","t":97,"v":24500},{"p":"lps","s":"Level 6","t":99,"v":29600},{"p":"lps","s":"Level 6","t":101,"v":48600},{"p":"lps","s":"Level 6","t":103,"v":55700},{"p":"lps","s":"Level 6","t":104.5,"v":50000},{"p":"lps","s":"Level 6","t":106,"v":54000},{"p":"lps","s":"Level 6","t":108,"v":61000},{"p":"lps","s":"Level 6","t":110,"v":66000},{"p":"lps","s":"Level 6","t":112,"v":71000},{"p":"lps","s":"Level 6","t":113.5,"v":93000},{"p":"lps","s":"Level 6","t":115,"v":116000},{"p":"lps","s":"Level 6","t":116.5,"v":108000},{"p":"lps","s":"Level 6","t":118,"v":100000},{"p":"lps","s":"Level 6","t":119.5,"v":93000},{"p":"lps","s":"Level 6","t":121,"v":78000},{"p":"lps","s":"Level 6","t":123,"v":66000},{"p":"lps","s":"Level 6","t":125,"v":62000},{"p":"lps","s":"Level 6","t":127,"v":57400},{"p":"lps","s":"Level 6","t":129,"v":48600},{"p":"lps","s":"Level 6","t":131,"v":45000},{"p":"lps","s":"Level 6","t":134,"v":45000},{"p":"lps","s":"Level 6","t":137,"v":42400},{"p":"lps","s":"Level 6","t":140,"v":39300},{"p":"lps","s":"Level 6","t":143,"v":35800},{"p":"lps","s":"Level 6","t":146,"v":37200},{"p":"lps","s":"Level 6","t":149,"v":39300},{"p":"lps","s":"Level 6","t":152,"v":37200},{"p":"lps","s":"Level 6","t":155,"v":34500},{"p":"lps","s":"Level 6","t":158,"v":33300},{"p":"lps","s":"Level 6","t":161,"v":30800},{"p":"lps","s":"Level 6","t":164,"v":29000},{"p":"lps","s":"Level 6","t":167,"v":25500},{"p":"lps","s":"Level 6","t":170,"v":22700},{"p":"lps","s":"Level 6","t":173,"v":21400},{"p":"lps","s":"Level 6","t":176,"v":21400},{"p":"lps","s":"Level 6","t":179,"v":18800},{"p":"lps","s":"Level 6","t":182,"v":16500},{"p":"lps","s":"Level 6","t":185,"v":15500},{"p":"lps","s":"Level 6","t":188,"v":15000},{"p":"lps","s":"Level 6","t":191,"v":14700},{"p":"lps","s":"Level 6","t":194,"v":14400},{"p":"lps","s":"Level 6","t":197,"v":13600},{"p":"lps","s":"Level 6","t":200,"v":13200},
{"p":"lps","s":"Level 7","t":0,"v":96000},{"p":"lps","s":"Level 7","t":3,"v":100000},{"p":"lps","s":"Level 7","t":5,"v":112000},{"p":"lps","s":"Level 7","t":7,"v":136000},{"p":"lps","s":"Level 7","t":9,"v":177000},{"p":"lps","s":"Level 7","t":11,"v":222000},{"p":"lps","s":"Level 7","t":13,"v":262000},{"p":"lps","s":"Level 7","t":15,"v":279000},{"p":"lps","s":"Level 7","t":17,"v":243000},{"p":"lps","s":"Level 7","t":19,"v":198000},{"p":"lps","s":"Level 7","t":21,"v":184000},{"p":"lps","s":"Level 7","t":23,"v":190000},{"p":"lps","s":"Level 7","t":25,"v":154000},{"p":"lps","s":"Level 7","t":27,"v":130000},{"p":"lps","s":"Level 7","t":29,"v":130000},{"p":"lps","s":"Level 7","t":31,"v":190000},{"p":"lps","s":"Level 7","t":32.5,"v":255000},{"p":"lps","s":"Level 7","t":34,"v":236000},{"p":"lps","s":"Level 7","t":36,"v":203000},{"p":"lps","s":"Level 7","t":38,"v":141000},{"p":"lps","s":"Level 7","t":40,"v":105000},{"p":"lps","s":"Level 7","t":42,"v":93000},{"p":"lps","s":"Level 7","t":44,"v":84000},{"p":"lps","s":"Level 7","t":46,"v":77000},{"p":"lps","s":"Level 7","t":48,"v":75500},{"p":"lps","s":"Level 7","t":50,"v":81500},{"p":"lps","s":"Level 7","t":52,"v":81500},{"p":"lps","s":"Level 7","t":54,"v":80000},{"p":"lps","s":"Level 7","t":56,"v":71000},{"p":"lps","s":"Level 7","t":58,"v":61000},{"p":"lps","s":"Level 7","t":60,"v":53000},{"p":"lps","s":"Level 7","t":62,"v":49300},{"p":"lps","s":"Level 7","t":64,"v":45000},{"p":"lps","s":"Level 7","t":66,"v":40000},{"p":"lps","s":"Level 7","t":68,"v":36400},{"p":"lps","s":"Level 7","t":71,"v":34500},{"p":"lps","s":"Level 7","t":74,"v":33700},{"p":"lps","s":"Level 7","t":77,"v":30800},{"p":"lps","s":"Level 7","t":80,"v":28500},{"p":"lps","s":"Level 7","t":83,"v":29600},{"p":"lps","s":"Level 7","t":86,"v":28500},{"p":"lps","s":"Level 7","t":89,"v":26000},{"p":"lps","s":"Level 7","t":92,"v":24800},{"p":"lps","s":"Level 7","t":95,"v":24100},{"p":"lps","s":"Level 7","t":98,"v":24500},{"p":"lps","s":"Level 7","t":100,"v":26500},{"p":"lps","s":"Level 7","t":102,"v":28500},{"p":"lps","s":"Level 7","t":104,"v":35800},{"p":"lps","s":"Level 7","t":106,"v":48600},{"p":"lps","s":"Level 7","t":108,"v":66000},{"p":"lps","s":"Level 7","t":110,"v":83000},{"p":"lps","s":"Level 7","t":112,"v":93000},{"p":"lps","s":"Level 7","t":114,"v":104000},{"p":"lps","s":"Level 7","t":116,"v":136000},{"p":"lps","s":"Level 7","t":118,"v":177000},{"p":"lps","s":"Level 7","t":120,"v":206000},{"p":"lps","s":"Level 7","t":122,"v":249000},{"p":"lps","s":"Level 7","t":124,"v":243000},{"p":"lps","s":"Level 7","t":126,"v":225000},{"p":"lps","s":"Level 7","t":128,"v":219000},{"p":"lps","s":"Level 7","t":130,"v":206000},{"p":"lps","s":"Level 7","t":132,"v":190000},{"p":"lps","s":"Level 7","t":134,"v":177000},{"p":"lps","s":"Level 7","t":136,"v":190000},{"p":"lps","s":"Level 7","t":137,"v":146000},{"p":"lps","s":"Level 7","t":139,"v":130000},{"p":"lps","s":"Level 7","t":141,"v":104000},{"p":"lps","s":"Level 7","t":143,"v":84000},{"p":"lps","s":"Level 7","t":145,"v":80000},{"p":"lps","s":"Level 7","t":147,"v":77000},{"p":"lps","s":"Level 7","t":149,"v":66000},{"p":"lps","s":"Level 7","t":151,"v":59000},{"p":"lps","s":"Level 7","t":153,"v":53000},{"p":"lps","s":"Level 7","t":155,"v":50500},{"p":"lps","s":"Level 7","t":157,"v":46800},{"p":"lps","s":"Level 7","t":159,"v":48600},{"p":"lps","s":"Level 7","t":161,"v":50500},{"p":"lps","s":"Level 7","t":163,"v":45000},{"p":"lps","s":"Level 7","t":165,"v":40000},{"p":"lps","s":"Level 7","t":167,"v":35800},{"p":"lps","s":"Level 7","t":170,"v":32700},{"p":"lps","s":"Level 7","t":173,"v":35200},{"p":"lps","s":"Level 7","t":176,"v":35200},{"p":"lps","s":"Level 7","t":179,"v":33700},{"p":"lps","s":"Level 7","t":182,"v":33300},{"p":"lps","s":"Level 7","t":185,"v":37200},{"p":"lps","s":"Level 7","t":188,"v":35800},{"p":"lps","s":"Level 7","t":191,"v":33300},{"p":"lps","s":"Level 7","t":194,"v":30800},{"p":"lps","s":"Level 7","t":196,"v":26800},{"p":"lps","s":"Level 7","t":198,"v":29000},{"p":"lps","s":"Level 7","t":200,"v":27000},
{"p":"int","s":"Level 5","t":0,"v":110000},{"p":"int","s":"Level 5","t":4,"v":110000},{"p":"int","s":"Level 5","t":6,"v":105000},{"p":"int","s":"Level 5","t":8,"v":91000},{"p":"int","s":"Level 5","t":10,"v":69000},{"p":"int","s":"Level 5","t":12,"v":56000},{"p":"int","s":"Level 5","t":14,"v":44000},{"p":"int","s":"Level 5","t":16,"v":35000},{"p":"int","s":"Level 5","t":17.5,"v":30800},{"p":"int","s":"Level 5","t":19,"v":33000},{"p":"int","s":"Level 5","t":21,"v":38700},{"p":"int","s":"Level 5","t":23,"v":41000},{"p":"int","s":"Level 5","t":25,"v":38000},{"p":"int","s":"Level 5","t":28,"v":34700},{"p":"int","s":"Level 5","t":31,"v":32200},{"p":"int","s":"Level 5","t":34,"v":29400},{"p":"int","s":"Level 5","t":37,"v":28800},{"p":"int","s":"Level 5","t":40,"v":26300},{"p":"int","s":"Level 5","t":43,"v":22900},{"p":"int","s":"Level 5","t":46,"v":20900},{"p":"int","s":"Level 5","t":49,"v":18600},{"p":"int","s":"Level 5","t":52,"v":16900},{"p":"int","s":"Level 5","t":54,"v":17400},{"p":"int","s":"Level 5","t":56,"v":15200},{"p":"int","s":"Level 5","t":59,"v":13200},{"p":"int","s":"Level 5","t":62,"v":12600},{"p":"int","s":"Level 5","t":65,"v":11500},{"p":"int","s":"Level 5","t":68,"v":11300},{"p":"int","s":"Level 5","t":72,"v":11500},{"p":"int","s":"Level 5","t":75,"v":11500},{"p":"int","s":"Level 5","t":78,"v":10500},{"p":"int","s":"Level 5","t":82,"v":10700},{"p":"int","s":"Level 5","t":85,"v":11000},{"p":"int","s":"Level 5","t":87,"v":11300},{"p":"int","s":"Level 5","t":90,"v":11500},{"p":"int","s":"Level 5","t":93,"v":12600},{"p":"int","s":"Level 5","t":96,"v":13200},{"p":"int","s":"Level 5","t":99,"v":12600},{"p":"int","s":"Level 5","t":102,"v":12600},{"p":"int","s":"Level 5","t":105,"v":12000},{"p":"int","s":"Level 5","t":108,"v":13200},{"p":"int","s":"Level 5","t":111,"v":13800},{"p":"int","s":"Level 5","t":113,"v":14500},{"p":"int","s":"Level 5","t":115,"v":12600},{"p":"int","s":"Level 5","t":117,"v":10500},{"p":"int","s":"Level 5","t":120,"v":9500},{"p":"int","s":"Level 5","t":122,"v":8700},{"p":"int","s":"Level 5","t":124,"v":7600},{"p":"int","s":"Level 5","t":126,"v":7100},{"p":"int","s":"Level 5","t":129,"v":6700},{"p":"int","s":"Level 5","t":132,"v":6500},{"p":"int","s":"Level 5","t":134,"v":5750},{"p":"int","s":"Level 5","t":136,"v":5400},{"p":"int","s":"Level 5","t":138,"v":5000},{"p":"int","s":"Level 5","t":141,"v":5100},{"p":"int","s":"Level 5","t":144,"v":5250},{"p":"int","s":"Level 5","t":147,"v":4900},{"p":"int","s":"Level 5","t":150,"v":4500},{"p":"int","s":"Level 5","t":153,"v":4650},{"p":"int","s":"Level 5","t":156,"v":5000},{"p":"int","s":"Level 5","t":159,"v":4650},{"p":"int","s":"Level 5","t":162,"v":4200},{"p":"int","s":"Level 5","t":165,"v":3950},{"p":"int","s":"Level 5","t":168,"v":4100},{"p":"int","s":"Level 5","t":171,"v":4360},{"p":"int","s":"Level 5","t":174,"v":4240},{"p":"int","s":"Level 5","t":177,"v":3980},{"p":"int","s":"Level 5","t":180,"v":3800},{"p":"int","s":"Level 5","t":183,"v":3800},{"p":"int","s":"Level 5","t":186,"v":3950},{"p":"int","s":"Level 5","t":189,"v":3900},{"p":"int","s":"Level 5","t":192,"v":3730},{"p":"int","s":"Level 5","t":195,"v":3530},{"p":"int","s":"Level 5","t":198,"v":3400},{"p":"int","s":"Level 5","t":200,"v":3370},
{"p":"int","s":"Level 6","t":0,"v":108000},{"p":"int","s":"Level 6","t":4,"v":108000},{"p":"int","s":"Level 6","t":6,"v":110000},{"p":"int","s":"Level 6","t":8.5,"v":117000},{"p":"int","s":"Level 6","t":10.5,"v":110000},{"p":"int","s":"Level 6","t":12,"v":95000},{"p":"int","s":"Level 6","t":14,"v":76000},{"p":"int","s":"Level 6","t":16,"v":55000},{"p":"int","s":"Level 6","t":18,"v":44000},{"p":"int","s":"Level 6","t":20,"v":46700},{"p":"int","s":"Level 6","t":21.5,"v":46000},{"p":"int","s":"Level 6","t":23,"v":42000},{"p":"int","s":"Level 6","t":25,"v":38000},{"p":"int","s":"Level 6","t":27,"v":34700},{"p":"int","s":"Level 6","t":30,"v":34700},{"p":"int","s":"Level 6","t":33,"v":36300},{"p":"int","s":"Level 6","t":35,"v":37300},{"p":"int","s":"Level 6","t":36.5,"v":33000},{"p":"int","s":"Level 6","t":38,"v":36300},{"p":"int","s":"Level 6","t":40,"v":37300},{"p":"int","s":"Level 6","t":42,"v":34000},{"p":"int","s":"Level 6","t":44,"v":31600},{"p":"int","s":"Level 6","t":46,"v":33000},{"p":"int","s":"Level 6","t":48,"v":34700},{"p":"int","s":"Level 6","t":50,"v":35400},{"p":"int","s":"Level 6","t":53,"v":35400},{"p":"int","s":"Level 6","t":54.5,"v":28800},{"p":"int","s":"Level 6","t":56,"v":19000},{"p":"int","s":"Level 6","t":58,"v":17400},{"p":"int","s":"Level 6","t":61,"v":17800},{"p":"int","s":"Level 6","t":64,"v":17800},{"p":"int","s":"Level 6","t":67,"v":16600},{"p":"int","s":"Level 6","t":70,"v":16300},{"p":"int","s":"Level 6","t":73,"v":17400},{"p":"int","s":"Level 6","t":76,"v":15200},{"p":"int","s":"Level 6","t":79,"v":13600},{"p":"int","s":"Level 6","t":82,"v":14100},{"p":"int","s":"Level 6","t":85,"v":14900},{"p":"int","s":"Level 6","t":88,"v":14500},{"p":"int","s":"Level 6","t":91,"v":13200},{"p":"int","s":"Level 6","t":94,"v":13600},{"p":"int","s":"Level 6","t":97,"v":14100},{"p":"int","s":"Level 6","t":100,"v":14100},{"p":"int","s":"Level 6","t":103,"v":13200},{"p":"int","s":"Level 6","t":106,"v":12800},{"p":"int","s":"Level 6","t":109,"v":13600},{"p":"int","s":"Level 6","t":112,"v":14100},{"p":"int","s":"Level 6","t":116,"v":14900},{"p":"int","s":"Level 6","t":120,"v":14100},{"p":"int","s":"Level 6","t":124,"v":13800},{"p":"int","s":"Level 6","t":127,"v":13800},{"p":"int","s":"Level 6","t":130,"v":15800},{"p":"int","s":"Level 6","t":133,"v":16600},{"p":"int","s":"Level 6","t":136,"v":18200},{"p":"int","s":"Level 6","t":139,"v":17400},{"p":"int","s":"Level 6","t":141,"v":16900},{"p":"int","s":"Level 6","t":144,"v":19000},{"p":"int","s":"Level 6","t":147,"v":20900},{"p":"int","s":"Level 6","t":150,"v":22700},{"p":"int","s":"Level 6","t":153,"v":21300},{"p":"int","s":"Level 6","t":156,"v":19500},{"p":"int","s":"Level 6","t":159,"v":18600},{"p":"int","s":"Level 6","t":162,"v":18600},{"p":"int","s":"Level 6","t":165,"v":16600},{"p":"int","s":"Level 6","t":168,"v":14500},{"p":"int","s":"Level 6","t":171,"v":12600},{"p":"int","s":"Level 6","t":174,"v":11000},{"p":"int","s":"Level 6","t":177,"v":10300},{"p":"int","s":"Level 6","t":180,"v":9100},{"p":"int","s":"Level 6","t":183,"v":7900},{"p":"int","s":"Level 6","t":186,"v":7800},{"p":"int","s":"Level 6","t":189,"v":7600},{"p":"int","s":"Level 6","t":192,"v":6100},{"p":"int","s":"Level 6","t":194,"v":6300},{"p":"int","s":"Level 6","t":197,"v":6600},{"p":"int","s":"Level 6","t":200,"v":6400},
{"p":"int","s":"Level 7","t":0,"v":105000},{"p":"int","s":"Level 7","t":4,"v":108000},{"p":"int","s":"Level 7","t":6,"v":120000},{"p":"int","s":"Level 7","t":8,"v":145000},{"p":"int","s":"Level 7","t":10,"v":174000},{"p":"int","s":"Level 7","t":12,"v":196000},{"p":"int","s":"Level 7","t":14,"v":209000},{"p":"int","s":"Level 7","t":15.5,"v":196000},{"p":"int","s":"Level 7","t":17,"v":145000},{"p":"int","s":"Level 7","t":19,"v":100000},{"p":"int","s":"Level 7","t":21,"v":76000},{"p":"int","s":"Level 7","t":23,"v":71000},{"p":"int","s":"Level 7","t":25,"v":63000},{"p":"int","s":"Level 7","t":27,"v":48000},{"p":"int","s":"Level 7","t":29,"v":41000},{"p":"int","s":"Level 7","t":31,"v":38700},{"p":"int","s":"Level 7","t":33,"v":41000},{"p":"int","s":"Level 7","t":35,"v":43700},{"p":"int","s":"Level 7","t":36.5,"v":39800},{"p":"int","s":"Level 7","t":38,"v":42400},{"p":"int","s":"Level 7","t":40,"v":38000},{"p":"int","s":"Level 7","t":42,"v":36300},{"p":"int","s":"Level 7","t":44,"v":38700},{"p":"int","s":"Level 7","t":46,"v":43700},{"p":"int","s":"Level 7","t":48,"v":55000},{"p":"int","s":"Level 7","t":50,"v":60000},{"p":"int","s":"Level 7","t":53,"v":59000},{"p":"int","s":"Level 7","t":55,"v":52500},{"p":"int","s":"Level 7","t":57,"v":38000},{"p":"int","s":"Level 7","t":59,"v":29400},{"p":"int","s":"Level 7","t":61,"v":26800},{"p":"int","s":"Level 7","t":63,"v":25100},{"p":"int","s":"Level 7","t":65,"v":21900},{"p":"int","s":"Level 7","t":67,"v":20400},{"p":"int","s":"Level 7","t":69,"v":21900},{"p":"int","s":"Level 7","t":71,"v":23600},{"p":"int","s":"Level 7","t":73,"v":21900},{"p":"int","s":"Level 7","t":75,"v":18200},{"p":"int","s":"Level 7","t":77,"v":16300},{"p":"int","s":"Level 7","t":80,"v":17400},{"p":"int","s":"Level 7","t":83,"v":18600},{"p":"int","s":"Level 7","t":86,"v":17800},{"p":"int","s":"Level 7","t":89,"v":17400},{"p":"int","s":"Level 7","t":92,"v":17800},{"p":"int","s":"Level 7","t":95,"v":16600},{"p":"int","s":"Level 7","t":98,"v":14900},{"p":"int","s":"Level 7","t":100,"v":14100},{"p":"int","s":"Level 7","t":103,"v":15500},{"p":"int","s":"Level 7","t":106,"v":16300},{"p":"int","s":"Level 7","t":109,"v":15500},{"p":"int","s":"Level 7","t":112,"v":14500},{"p":"int","s":"Level 7","t":116,"v":14500},{"p":"int","s":"Level 7","t":120,"v":15200},{"p":"int","s":"Level 7","t":124,"v":16600},{"p":"int","s":"Level 7","t":126,"v":17400},{"p":"int","s":"Level 7","t":129,"v":15500},{"p":"int","s":"Level 7","t":132,"v":13800},{"p":"int","s":"Level 7","t":134,"v":13200},{"p":"int","s":"Level 7","t":136,"v":14500},{"p":"int","s":"Level 7","t":138,"v":17800},{"p":"int","s":"Level 7","t":140,"v":20900},{"p":"int","s":"Level 7","t":143,"v":22900},{"p":"int","s":"Level 7","t":146,"v":23600},{"p":"int","s":"Level 7","t":149,"v":24000},{"p":"int","s":"Level 7","t":152,"v":26800},{"p":"int","s":"Level 7","t":155,"v":28800},{"p":"int","s":"Level 7","t":158,"v":27500},{"p":"int","s":"Level 7","t":161,"v":24400},{"p":"int","s":"Level 7","t":164,"v":25800},{"p":"int","s":"Level 7","t":167,"v":27500},{"p":"int","s":"Level 7","t":170,"v":26800},{"p":"int","s":"Level 7","t":173,"v":23600},{"p":"int","s":"Level 7","t":176,"v":23300},{"p":"int","s":"Level 7","t":179,"v":22900},{"p":"int","s":"Level 7","t":182,"v":20900},{"p":"int","s":"Level 7","t":185,"v":17400},{"p":"int","s":"Level 7","t":188,"v":13800},{"p":"int","s":"Level 7","t":191,"v":11700},{"p":"int","s":"Level 7","t":194,"v":10500},{"p":"int","s":"Level 7","t":197,"v":9100},{"p":"int","s":"Level 7","t":200,"v":8100},
{"p":"ref","s":"reference","t":0,"v":97000},{"p":"ref","s":"reference","t":5,"v":105000},{"p":"ref","s":"reference","t":8.6,"v":155000},{"p":"ref","s":"reference","t":11.6,"v":270000},{"p":"ref","s":"reference","t":13,"v":475000},{"p":"ref","s":"reference","t":15,"v":590000},{"p":"ref","s":"reference","t":17,"v":550000},{"p":"ref","s":"reference","t":19,"v":490000},{"p":"ref","s":"reference","t":23,"v":495000},{"p":"ref","s":"reference","t":25,"v":385000},{"p":"ref","s":"reference","t":27.5,"v":190000},{"p":"ref","s":"reference","t":30,"v":117000},{"p":"ref","s":"reference","t":32,"v":100000},{"p":"ref","s":"reference","t":33,"v":105000},{"p":"ref","s":"reference","t":35,"v":103000},{"p":"ref","s":"reference","t":36.6,"v":115000},{"p":"ref","s":"reference","t":39.6,"v":139000},{"p":"ref","s":"reference","t":42,"v":205000},{"p":"ref","s":"reference","t":45,"v":260000},{"p":"ref","s":"reference","t":48,"v":323000},{"p":"ref","s":"reference","t":50,"v":364000},{"p":"ref","s":"reference","t":53,"v":358000},{"p":"ref","s":"reference","t":56,"v":350000},{"p":"ref","s":"reference","t":58.5,"v":270000},{"p":"ref","s":"reference","t":61,"v":190000},{"p":"ref","s":"reference","t":63,"v":157000},{"p":"ref","s":"reference","t":66,"v":180000},{"p":"ref","s":"reference","t":68.4,"v":155000},{"p":"ref","s":"reference","t":71.4,"v":134000},{"p":"ref","s":"reference","t":74.4,"v":109000},{"p":"ref","s":"reference","t":77.5,"v":79000},{"p":"ref","s":"reference","t":80.5,"v":64300},{"p":"ref","s":"reference","t":83.5,"v":63000},{"p":"ref","s":"reference","t":86.5,"v":61000},{"p":"ref","s":"reference","t":89.5,"v":64000},{"p":"ref","s":"reference","t":93,"v":64000},{"p":"ref","s":"reference","t":95.6,"v":56000},{"p":"ref","s":"reference","t":100,"v":45000},{"p":"ref","s":"reference","t":104,"v":40000},{"p":"ref","s":"reference","t":107.7,"v":40000},{"p":"ref","s":"reference","t":110.7,"v":39000},{"p":"ref","s":"reference","t":113.8,"v":34000},{"p":"ref","s":"reference","t":118,"v":31000},{"p":"ref","s":"reference","t":122,"v":27700},{"p":"ref","s":"reference","t":126,"v":25200},{"p":"ref","s":"reference","t":132,"v":25000},{"p":"ref","s":"reference","t":136.5,"v":24500},{"p":"ref","s":"reference","t":140,"v":21600},{"p":"ref","s":"reference","t":145.5,"v":22300},{"p":"ref","s":"reference","t":150,"v":20900},{"p":"ref","s":"reference","t":154.6,"v":22000},{"p":"ref","s":"reference","t":160,"v":20200},{"p":"ref","s":"reference","t":165,"v":19900},{"p":"ref","s":"reference","t":170.5,"v":19500},{"p":"ref","s":"reference","t":176,"v":19700},{"p":"ref","s":"reference","t":180,"v":19500},{"p":"ref","s":"reference","t":183,"v":21300},{"p":"ref","s":"reference","t":186,"v":25800},{"p":"ref","s":"reference","t":189,"v":29000},{"p":"ref","s":"reference","t":191,"v":26800},{"p":"ref","s":"reference","t":193,"v":24000},{"p":"ref","s":"reference","t":195.5,"v":27000},{"p":"ref","s":"reference","t":198.5,"v":27700},{"p":"ref","s":"reference","t":200,"v":30300}
 ]},
 "data": {"name": "d"},
 "columns": 2,
 "spacing": {"row": 8, "column": 18},
 "resolve": {"scale": {"color": "independent"}, "legend": {"color": "independent"}},
 "concat": [
  {"title": "EO RB–VMS", "width": 507, "height": 223,
   "transform": [{"filter": "datum.p == 'rb' || datum.p == 'ref'"}],
   "mark": {"type": "line", "strokeWidth": 1.3, "interpolate": "monotone"},
   "encoding": {
    "x": {"field": "t", "type": "quantitative", "scale": {"domain": [-1.5, 210], "nice": false, "zero": false}, "axis": {"values": [0,20,40,60,80,100,120,140,160,180,200], "title": "time in units", "labelFont": "Liberation Serif", "titleFont": "Liberation Serif", "labelPadding": 4, "titlePadding": 3, "labelFlush": false, "labelOverlap": false}},
    "y": {"field": "v", "type": "quantitative", "scale": {"type": "log", "domain": [7900, 940000], "nice": false}, "axis": {"values": [8000,9000,10000,20000,30000,40000,50000,60000,70000,80000,90000,100000,200000,300000,400000,500000,600000,700000,800000,900000], "labelExpr": "datum.value == 10000 ? '10⁴' : datum.value == 100000 ? '10⁵' : ''", "labelOverlap": false, "title": "½‖∇ωₕ‖²₀", "labelFont": "Liberation Serif", "titleFont": "Liberation Serif", "titleFontSize": 14, "labelPadding": 6, "titlePadding": 7}},
    "color": {"field": "s", "type": "nominal", "scale": {"domain": ["Level 5", "Level 6", "Level 7", "reference"], "range": ["#1ee81e", "#0000ff", "#ff0000", "#000000"]}, "legend": {"title": null, "labelFont": "Liberation Serif", "legendX": 408, "legendY": 4}}
   }},
  {"title": "EO SUPG", "width": 498, "height": 223,
   "transform": [{"filter": "datum.p == 'supg' || datum.p == 'ref'"}],
   "mark": {"type": "line", "strokeWidth": 1.3, "interpolate": "monotone"},
   "encoding": {
    "x": {"field": "t", "type": "quantitative", "scale": {"domain": [-1.5, 206.3], "nice": false, "zero": false}, "axis": {"values": [0,20,40,60,80,100,120,140,160,180,200], "title": "time in units", "labelFont": "Liberation Serif", "titleFont": "Liberation Serif", "labelPadding": 4, "titlePadding": 3, "labelFlush": false, "labelOverlap": false}},
    "y": {"field": "v", "type": "quantitative", "scale": {"type": "log", "domain": [4500, 870000], "nice": false}, "axis": {"values": [5000,6000,7000,8000,9000,10000,20000,30000,40000,50000,60000,70000,80000,90000,100000,200000,300000,400000,500000,600000,700000,800000], "labelExpr": "datum.value == 10000 ? '10⁴' : datum.value == 100000 ? '10⁵' : ''", "labelOverlap": false, "title": "½‖∇ωₕ‖²₀", "labelFont": "Liberation Serif", "titleFont": "Liberation Serif", "titleFontSize": 14, "labelPadding": 6, "titlePadding": 7}},
    "color": {"field": "s", "type": "nominal", "scale": {"domain": ["Level 5", "Level 6", "Level 7", "reference"], "range": ["#1ee81e", "#0000ff", "#ff0000", "#000000"]}, "legend": {"title": null, "labelFont": "Liberation Serif", "legendX": 407, "legendY": 4}}
   }},
  {"title": "EO one-level LPS", "width": 507, "height": 223,
   "transform": [{"filter": "datum.p == 'lps' || datum.p == 'ref'"}],
   "mark": {"type": "line", "strokeWidth": 1.3, "interpolate": "monotone"},
   "encoding": {
    "x": {"field": "t", "type": "quantitative", "scale": {"domain": [-1.5, 210], "nice": false, "zero": false}, "axis": {"values": [0,20,40,60,80,100,120,140,160,180,200], "title": "time in units", "labelFont": "Liberation Serif", "titleFont": "Liberation Serif", "labelPadding": 4, "titlePadding": 3, "labelFlush": false, "labelOverlap": false}},
    "y": {"field": "v", "type": "quantitative", "scale": {"type": "log", "domain": [5400, 890000], "nice": false}, "axis": {"values": [6000,7000,8000,9000,10000,20000,30000,40000,50000,60000,70000,80000,90000,100000,200000,300000,400000,500000,600000,700000,800000], "labelExpr": "datum.value == 10000 ? '10⁴' : datum.value == 100000 ? '10⁵' : ''", "labelOverlap": false, "title": "½‖∇ωₕ‖²₀", "labelFont": "Liberation Serif", "titleFont": "Liberation Serif", "titleFontSize": 14, "labelPadding": 6, "titlePadding": 7}},
    "color": {"field": "s", "type": "nominal", "scale": {"domain": ["Level 5", "Level 6", "Level 7", "reference"], "range": ["#1ee81e", "#0000ff", "#ff0000", "#000000"]}, "legend": {"title": null, "labelFont": "Liberation Serif", "legendX": 408, "legendY": 4}}
   }},
  {"title": "EO LPS by Interpolation", "width": 498, "height": 223,
   "transform": [{"filter": "datum.p == 'int' || datum.p == 'ref'"}],
   "mark": {"type": "line", "strokeWidth": 1.3, "interpolate": "monotone"},
   "encoding": {
    "x": {"field": "t", "type": "quantitative", "scale": {"domain": [-1.5, 206.3], "nice": false, "zero": false}, "axis": {"values": [0,20,40,60,80,100,120,140,160,180,200], "title": "time in units", "labelFont": "Liberation Serif", "titleFont": "Liberation Serif", "labelPadding": 4, "titlePadding": 3, "labelFlush": false, "labelOverlap": false}},
    "y": {"field": "v", "type": "quantitative", "scale": {"type": "log", "domain": [1970, 1070000], "nice": false}, "axis": {"values": [2000,3000,4000,5000,6000,7000,8000,9000,10000,20000,30000,40000,50000,60000,70000,80000,90000,100000,200000,300000,400000,500000,600000,700000,800000,900000,1000000], "labelExpr": "datum.value == 10000 ? '10⁴' : datum.value == 100000 ? '10⁵' : ''", "labelOverlap": false, "title": "½‖∇ωₕ‖²₀", "labelFont": "Liberation Serif", "titleFont": "Liberation Serif", "titleFontSize": 14, "labelPadding": 6, "titlePadding": 7}},
    "color": {"field": "s", "type": "nominal", "scale": {"domain": ["Level 5", "Level 6", "Level 7", "reference"], "range": ["#1ee81e", "#0000ff", "#ff0000", "#000000"]}, "legend": {"title": null, "labelFont": "Liberation Serif", "legendX": 407, "legendY": 4}}
   }}
 ]
}
